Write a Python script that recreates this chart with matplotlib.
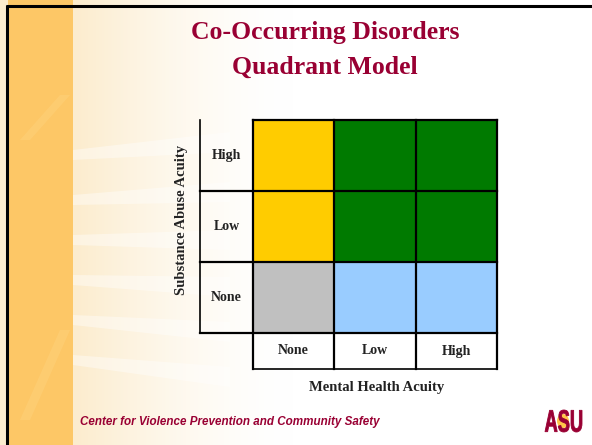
import matplotlib.pyplot as plt
import matplotlib.patches as mpatches
from matplotlib.textpath import TextPath
from matplotlib.font_manager import FontProperties
from matplotlib.transforms import Affine2D
import numpy as np

# Quadrant model: rows = substance abuse acuity, columns = mental health acuity
mh_levels = ['None', 'Low', 'High']
sa_levels = ['None', 'Low', 'High']
# category of each cell, row index = substance abuse level (None, Low, High)
cell_category = [
    ['neither', 'mental', 'mental'],
    ['substance', 'both', 'both'],
    ['substance', 'both', 'both'],
]
category_colors = {
    'neither': '#C0C0C0',
    'mental': '#99CCFF',
    'substance': '#FFCC00',
    'both': '#007A00',
}

title_lines = ['Co-Occurring Disorders', 'Quadrant Model']
footer = 'Center for Violence Prevention and Community Safety'
x_title = 'Mental Health Acuity'
y_title = 'Substance Abuse Acuity'

W, H = 592, 445
fig = plt.figure(figsize=(W / 100, H / 100), dpi=100)

# ---- slide background ----
bg = fig.add_axes([0, 0, 1, 1])
bg.set_xlim(0, W)
bg.set_ylim(H, 0)
bg.axis('off')
img = np.ones((H, W, 3))
xs = np.arange(W)
cream = np.array([252, 236, 205]) / 255
fade = np.clip(1 - (xs - 73) / 220.0, 0, 1) ** 1.6
for c in range(3):
    img[:, :, c] = 1 - fade[None, :] * (1 - cream[c])
orange = np.array([253, 199, 102]) / 255
img[:, 8:73, :] = orange
bg.imshow(img, extent=[0, W, H, 0], aspect='auto', zorder=0)
# light rays across the cream area
rays = [(150, 160, 140), (195, 205, 190), (235, 245, 238),
        (275, 285, 285), (315, 325, 330), (355, 365, 375)]
for y0, y1, yc in rays:
    bg.add_patch(mpatches.Polygon([(73, y0), (73, y1), (230, yc + 12), (230, yc - 8)],
                                  closed=True, color='white', alpha=0.4, lw=0, zorder=1))
for y0, y1 in [(95, 140), (330, 420)]:
    bg.add_patch(mpatches.Polygon([(20, y1), (30, y1), (70, y0), (60, y0)],
                                  closed=True, color='#FFD98A', alpha=0.3, lw=0, zorder=1))
# frame
bg.plot([6, W], [6, 6], color='black', lw=2.2, solid_capstyle='butt', zorder=3)
bg.plot([7, 7], [5, H], color='black', lw=2.2, solid_capstyle='butt', zorder=3)

# ---- title and footer ----
title_color = '#990033'
for i, line in enumerate(title_lines):
    fig.text(325 / W, 1 - (33 + 34 * i) / H, line, ha='center', va='center',
             fontsize=18.5, fontweight='bold', family='Liberation Serif', color=title_color)
fig.text(80 / W, 1 - 422 / H, footer, ha='left', va='center', fontsize=8.4,
         fontweight='bold', style='italic', family='Liberation Sans', color=title_color)

# ASU logo: condensed heavy letters over a gold glow
bg.add_patch(mpatches.Ellipse((563, 421), 12, 14, color='#FFB81C', alpha=0.8, lw=0, zorder=2))
tp = TextPath((0, 0), 'ASU', size=10, prop=FontProperties(family='Liberation Sans', weight='bold'))
ext = tp.get_extents()
sx = 37 / ext.width
sy = 22 / ext.height
trans = Affine2D().translate(-ext.x0, -ext.y0).scale(sx, -sy).translate(545, 432) + bg.transData
logo = mpatches.PathPatch(tp, facecolor='#990033', edgecolor='#990033', lw=0.6,
                          transform=trans, zorder=3)
bg.add_patch(logo)

# ---- quadrant grid ----
left, right, top, bottom = 200, 497, 120, 369
ax = fig.add_axes([left / W, 1 - bottom / H, (right - left) / W, (bottom - top) / H])
label_w = 53 / ((497 - 253) / 3)
label_h = 36 / ((333 - 120) / 3)
ax.set_xlim(-label_w, 3)
ax.set_ylim(-label_h, 3)
ax.axis('off')

for r, row in enumerate(cell_category):
    for c, cat in enumerate(row):
        ax.add_patch(mpatches.Rectangle((c, r), 1, 1, facecolor=category_colors[cat],
                                        edgecolor='none', zorder=1))

lab_font = dict(family='Liberation Serif', fontweight='bold', fontsize=10, color='#222222')
for r, name in enumerate(sa_levels):
    ax.text(-label_w / 2, r + 0.5, name, ha='center', va='center', **lab_font)
for c, name in enumerate(mh_levels):
    ax.text(c + 0.5, -label_h / 2, name, ha='center', va='center', **lab_font)

lw = 1.6
# grid lines around coloured cells
for r in range(4):
    ax.plot([-label_w if r < 3 else 0, 3], [r, r], color='black', lw=lw,
            solid_capstyle='projecting', zorder=2, clip_on=False)
for c in range(4):
    ax.plot([c, c], [-label_h, 3], color='black', lw=lw,
            solid_capstyle='projecting', zorder=2, clip_on=False)
ax.plot([-label_w, -label_w], [0, 3], color='black', lw=1.2, zorder=2, clip_on=False)
ax.plot([0, 3], [-label_h, -label_h], color='black', lw=1.2, zorder=2, clip_on=False)

axis_font = dict(lab_font, fontsize=10.5)
fig.text(377 / W, 1 - 387 / H, x_title, ha='center', va='center', **axis_font)
fig.text(182 / W, 1 - 220 / H, y_title, ha='center', va='center', rotation=90, **axis_font)

fig.savefig('out.png', dpi=100)
